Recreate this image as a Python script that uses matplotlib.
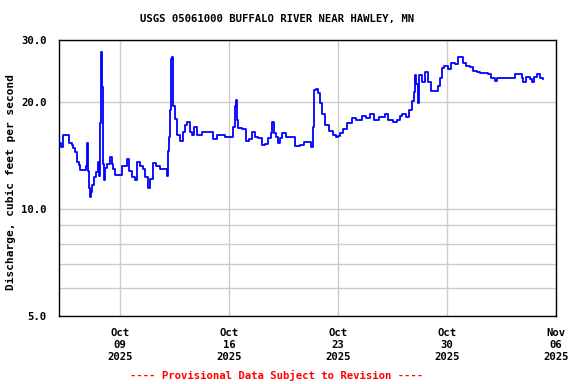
import numpy as np
import pandas as pd
import matplotlib
matplotlib.use("Agg")
import matplotlib.pyplot as plt
import matplotlib.dates as mdates
from matplotlib.ticker import FixedLocator, NullFormatter

# discharge readings, hours since 2025-10-05 00:00
hours = [2.0, 5.1, 8.1, 14.3, 17.4, 22.0, 23.6, 26.6, 29.7, 32.8, 34.3, 40.5, 43.6, 45.1,
         46.7, 48.2, 49.8, 51.3, 52.8, 55.9, 59.0, 62.1, 63.6, 65.2, 66.7, 68.2, 69.3, 71.3,
         72.9, 76.0, 80.6, 83.7, 85.2, 88.3, 96.0, 99.1, 103.7, 106.8, 109.9, 114.5, 119.1,
         122.2, 126.8, 131.4, 134.5, 139.1, 142.2, 146.9, 151.5, 157.6, 165.4, 168.4, 170.0,
         171.5, 173.1, 174.6, 176.1, 177.7, 180.8, 183.9, 188.5, 193.1, 196.2, 199.3, 203.9,
         207.0, 210.1, 214.7, 222.4, 228.5, 234.7, 239.3, 245.5, 257.8, 268.6, 270.2, 273.2,
         274.8, 276.3, 277.9, 284.0, 290.2, 294.8, 299.4, 304.1, 308.7, 314.9, 319.5, 324.1,
         328.7, 330.3, 333.3, 336.4, 339.5, 342.6, 345.7, 351.9, 361.1, 365.7, 373.4, 379.6,
         388.8, 390.4, 393.5, 395.0, 398.1, 401.2, 404.3, 407.3, 412.0, 418.1, 424.3, 428.9,
         432.0, 435.1, 439.7, 445.9, 453.6, 459.7, 469.0, 475.1, 481.3, 487.5, 495.2, 504.4,
         509.0, 516.7, 522.9, 527.6, 530.6, 536.8, 541.4, 546.0, 549.1, 550.7, 552.2, 555.3,
         556.8, 561.5, 566.1, 570.7, 575.3, 581.5, 586.1, 589.2, 592.3, 595.4, 601.5, 606.2,
         612.3, 616.9, 621.6, 624.7, 629.3, 635.5, 640.1, 646.3, 651.0, 658.6, 663.2, 667.8,
         674.0, 677.1, 689.4, 700.2, 704.8, 712.5, 715.6, 717.1, 721.8, 728.0, 731.0, 734.1,
         738.7, 743.3, 748.0]
flow = [15.4, 15.0, 16.2, 16.2, 15.4, 15.2, 14.9, 14.5, 13.6, 13.3, 12.9, 12.9, 13.2, 15.4,
        12.8, 11.5, 10.8, 11.2, 11.7, 12.3, 12.7, 13.6, 12.4, 17.5, 27.8, 22.1, 13.4, 12.1,
        13.1, 13.4, 14.0, 13.4, 13.0, 12.5, 12.5, 13.2, 13.2, 13.9, 12.8, 12.3, 12.1,
        13.6, 13.2, 13.0, 12.3, 11.5, 12.2, 13.5, 13.2, 13.0, 13.0, 12.4, 14.6,
        16.0, 19.0, 26.5, 26.8, 19.6, 18.0, 16.2, 15.6, 16.5, 17.3, 17.6, 16.5,
        16.2, 17.0, 16.2, 16.5, 16.5, 16.5, 15.8, 16.2, 16.0, 16.0, 17.1, 19.6,
        20.3, 17.8, 16.9, 16.8, 15.6, 15.8, 16.5, 16.0, 15.9, 15.2, 15.3, 15.9,
        16.4, 17.6, 16.4, 16.0, 15.4, 15.9, 16.4, 16.0, 16.0, 15.1, 15.2, 15.5,
        15.5, 15.0, 17.0, 21.7, 21.8, 21.3, 19.9, 18.5, 17.3, 16.6, 16.2, 16.0,
        16.1, 16.4, 16.8, 17.5, 18.1, 17.9, 18.3, 18.1, 18.6, 17.9, 18.2, 18.5,
        17.9, 17.6, 17.8, 18.3, 18.6, 18.2, 19.0, 20.2, 21.4, 23.9, 22.6, 19.9,
        23.9, 22.9, 24.4, 22.8, 21.6, 21.6, 22.3, 23.4, 25.0, 25.4, 24.8, 25.8,
        25.6, 26.8, 26.8, 25.8, 25.3, 25.1, 24.6, 24.4, 24.2, 24.2, 24.0, 23.5,
        23.0, 23.5, 23.4, 23.4, 24.0, 24.0, 23.4, 22.9, 23.6, 23.3, 22.9, 23.6,
        24.1, 23.5, 23.3]

start = pd.Timestamp("2025-10-05 00:00")
times = start + pd.to_timedelta(hours, unit="h")

tick_dates = pd.to_datetime(["2025-10-09", "2025-10-16", "2025-10-23", "2025-10-30", "2025-11-06"])
y_ticks = [5.0, 10.0, 20.0, 30.0]
y_minor = [6, 7, 8, 9]

font = dict(family="DejaVu Sans Mono", fontweight="bold", fontsize=7.7)

fig = plt.figure(figsize=(5.76, 3.84), dpi=100)
ax = fig.add_axes([59/576, 1-316/384, 497/576, 276/384])

ax.set_yscale("log")
ax.set_ylim(5, 30)
ax.set_xlim(start + pd.Timedelta(hours=2), pd.Timestamp("2025-11-06"))

ax.plot(times, flow, color="#0000ff", lw=1.3, drawstyle="steps-post", zorder=3)

ax.yaxis.set_major_locator(FixedLocator(y_ticks))
ax.yaxis.set_minor_locator(FixedLocator(y_minor))
ax.yaxis.set_minor_formatter(NullFormatter())
ax.set_yticklabels(["%.1f" % v for v in y_ticks], **font)
ax.set_xticks(tick_dates)
ax.set_xticklabels([d.strftime("%b\n%d\n%Y") for d in tick_dates], **font, linespacing=1.25)

ax.grid(True, which="both", color="#cccccc", lw=1, zorder=0)
ax.tick_params(which="both", length=0)
ax.tick_params(axis="y", pad=9)
ax.tick_params(axis="x", pad=9)
for s in ax.spines.values():
    s.set_linewidth(1)
    s.set_color("black")

# y label placed directly so it does not get pushed off the left edge
fig.text(11/576, 1-182/384, "Discharge, cubic feet per second", family="DejaVu Sans Mono",
         fontweight="bold", fontsize=8.0, rotation=90, ha="center", va="center")

fig.text(277/576, 1-19/384, "USGS 05061000 BUFFALO RIVER NEAR HAWLEY, MN",
         ha="center", va="center", **font)
fig.text(277/576, 1-375/384, "---- Provisional Data Subject to Revision ----",
         ha="center", va="center", color="red", **font)

fig.savefig("out.png", dpi=100)
